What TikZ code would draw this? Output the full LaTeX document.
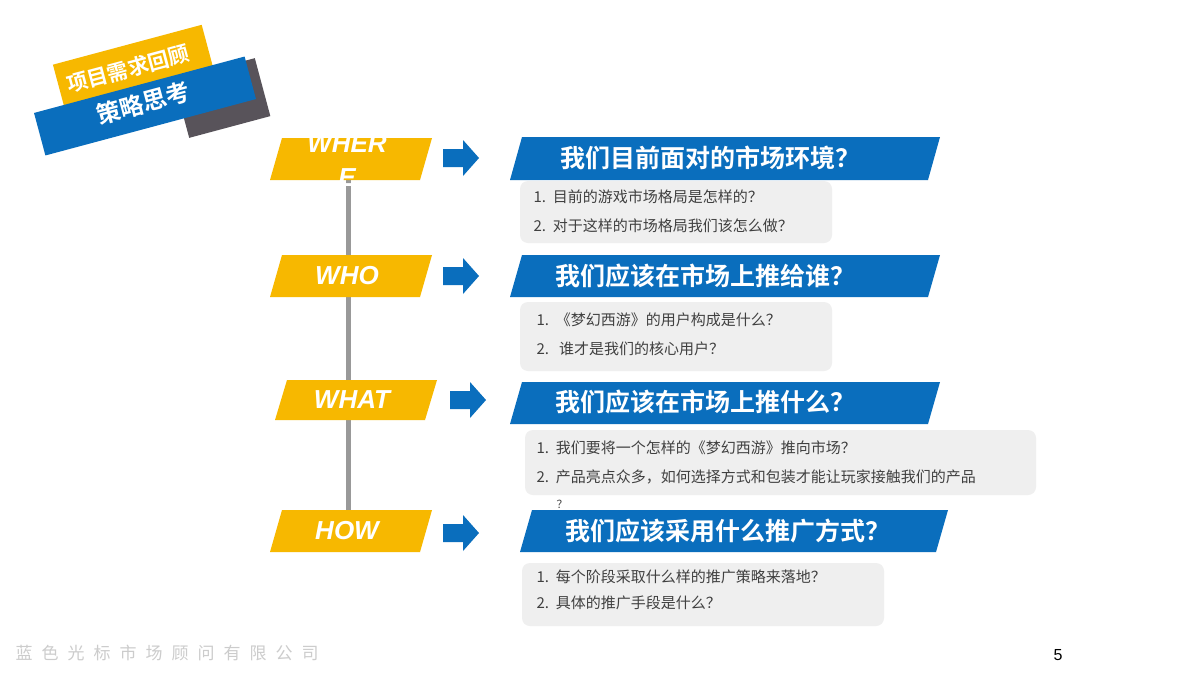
\documentclass[tikz,border=0pt]{standalone}
\usepackage{fontspec}
\setmainfont{Liberation Sans}
\newfontfamily\cjk{Noto Sans CJK SC}
\newfontfamily\cjkb{Noto Sans CJK SC Bold}
\definecolor{yel}{HTML}{F7B800}
\definecolor{blu}{HTML}{0A6EBD}
\definecolor{dgray}{HTML}{58535A}
\definecolor{boxg}{HTML}{EFEFEF}
\definecolor{txtg}{HTML}{404040}
\tikzset{
 ylab/.style={fill=yel},
 bban/.style={fill=blu},
 qbox/.style={fill=boxg,rounded corners=8pt},
 ytxt/.style={text=white,font=\fontsize{26}{24}\selectfont\bfseries\itshape,align=center},
 btxt/.style={text=white,font=\cjkb\fontsize{25}{27}\selectfont},
 ltxt/.style={text=txtg,font=\cjk\fontsize{15}{16}\selectfont,anchor=west},
 barrow/.style={fill=blu}
}
\newcommand{\yparal}[4]{\fill[ylab] (#1+12,#2) -- (#3+12,#2) -- (#3,#4) -- (#1,#4) -- cycle;}
\newcommand{\bparal}[4]{\fill[bban] (#1+12,#2) -- (#3,#2) -- (#3-12,#4) -- (#1,#4) -- cycle;}
\newcommand{\barr}[2]{\fill[barrow] (#1,#2-9) -- (#1+20,#2-9) -- (#1+20,#2-18) -- (#1+36,#2) -- (#1+20,#2+18) -- (#1+20,#2+9) -- (#1,#2+9) -- cycle;}
\begin{document}
\begin{tikzpicture}[x=1pt,y=-1pt]
\useasboundingbox (0,0) rectangle (1200,675);
\fill[white] (0,0) rectangle (1200,675);
% badge
\fill[dgray,rotate around={15:(222,98)}] (180,68) rectangle (264,128);
\fill[yel,rotate around={15:(133,66)}] (56,44) rectangle (210,88);
\fill[blu,rotate around={15:(145,106)}] (36,84) rectangle (254,128);
\node[rotate=15,text=white,font=\cjkb\fontsize{21}{22}\selectfont] (b1) at (128,69) {项目需求回顾};
\node[rotate=15,text=white,font=\cjkb\fontsize{24}{26}\selectfont] (b2) at (143,103) {策略思考};
% vertical line
\coordinate (lt) at (348,180);
\coordinate (lb) at (348,512);
\draw[line width=5pt,color=gray!80] (lt) -- (lb);
% yellow labels
\yparal{270}{138}{420}{180}
\yparal{270}{255}{420}{297}
\yparal{275}{380}{425}{420}
\yparal{270}{510}{420}{552}
\node[ytxt] (w1) at (347,161) {WHER\\[10pt]E};
\node[ytxt] (w2) at (347,276) {WHO};
\node[ytxt] (w3) at (352,400) {WHAT};
\node[ytxt] (w4) at (347,531) {HOW};
% arrows
\barr{443}{158}
\barr{443}{276}
\barr{450}{400}
\barr{443}{533}
% banners
\bparal{510}{137}{940}{180}
\bparal{510}{255}{940}{297}
\bparal{510}{382}{940}{424}
\bparal{520}{510}{948}{552}
\node[btxt] (t1) at (710,158) {我们目前面对的市场环境？};
\node[btxt] (t2) at (705,276) {我们应该在市场上推给谁？};
\node[btxt] (t3) at (705,402) {我们应该在市场上推什么？};
\node[btxt] (t4) at (728,531) {我们应该采用什么推广方式？};
% boxes
\fill[qbox] (520,181) rectangle (832,243);
\fill[qbox] (520,302) rectangle (832,371);
\fill[qbox] (525,430) rectangle (1036,495);
\fill[qbox] (522,563) rectangle (884,626);
\node[ltxt] (q11) at (530,197) {1.\ \ 目前的游戏市场格局是怎样的？};
\node[ltxt] (q12) at (530,226) {2.\ \ 对于这样的市场格局我们该怎么做？};
\node[ltxt] (q21) at (533,320) {1.\ \ 《梦幻西游》的用户构成是什么？};
\node[ltxt] (q22) at (533,349) {2.\ \ \ 谁才是我们的核心用户？};
\node[ltxt] (q31) at (533,448) {1.\ \ 我们要将一个怎样的《梦幻西游》推向市场？};
\node[ltxt] (q32) at (533,477) {2.\ \ 产品亮点众多，如何选择方式和包装才能让玩家接触我们的产品};
\node[ltxt,font=\cjk\fontsize{11}{12}\selectfont] (q33) at (553,504) {？};
\node[ltxt] (q41) at (533,577) {1.\ \ 每个阶段采取什么样的推广策略来落地？};
\node[ltxt] (q42) at (533,603) {2.\ \ 具体的推广手段是什么？};
% footer
\node[anchor=west,text=gray!40,font=\cjk\fontsize{17}{18}\selectfont] (ft) at (12,653) {蓝\hspace{9pt}色\hspace{9pt}光\hspace{9pt}标\hspace{9pt}市\hspace{9pt}场\hspace{9pt}顾\hspace{9pt}问\hspace{9pt}有\hspace{9pt}限\hspace{9pt}公\hspace{9pt}司};
\node[font=\fontsize{16}{18}\selectfont] (pg) at (1058,655) {5};
\end{tikzpicture}
\end{document}
